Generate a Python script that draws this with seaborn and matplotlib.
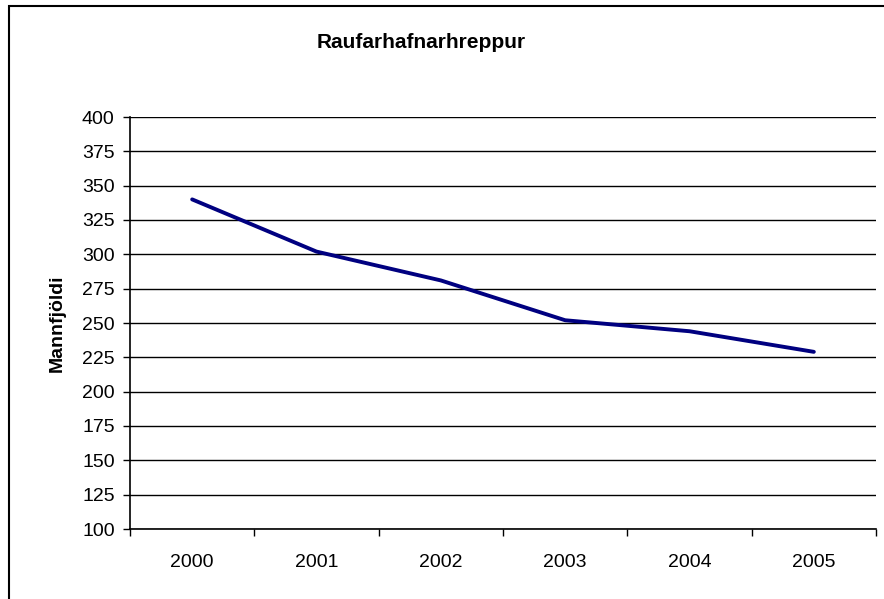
import pandas as pd
import matplotlib.pyplot as plt
import matplotlib.patches as patches
from matplotlib.ticker import FixedLocator
import seaborn as sns

years = ['2000', '2001', '2002', '2003', '2004', '2005']
population = [340, 302, 281, 252, 244, 229]
y_ticks = list(range(100, 401, 25))

df = pd.DataFrame({'year': years, 'pop': population})

sns.set_style('white')
plt.rcParams['font.family'] = ['Liberation Sans', 'DejaVu Sans']
plt.rcParams['text.color'] = 'black'
plt.rcParams['axes.labelcolor'] = 'black'
plt.rcParams['xtick.color'] = 'black'
plt.rcParams['ytick.color'] = 'black'

fig = plt.figure(figsize=(8.84, 5.99), dpi=100)
ax = fig.add_axes([130 / 884, 70 / 599, 746 / 884, 412 / 599])

sns.lineplot(data=df, x='year', y='pop', ax=ax, color='#000080', linewidth=2.8)

ax.set_xlim(-0.5, len(years) - 0.5)
ax.set_ylim(100, 400)
ax.set_yticks(y_ticks)
ax.yaxis.grid(True, color='black', linewidth=1)
ax.set_axisbelow(True)

# category axis: labels centered, tick marks between categories
ax.xaxis.set_minor_locator(FixedLocator([i - 0.5 for i in range(len(years) + 1)]))
ax.tick_params(axis='x', which='major', length=0, pad=18, labelsize=14)
ax.tick_params(axis='x', which='minor', direction='out', length=5, width=1, color='black', bottom=True)
ax.tick_params(axis='y', direction='out', length=5, width=1, color='black', left=True, pad=6, labelsize=14)

for s in ['top', 'right']:
    ax.spines[s].set_visible(False)
for s in ['left', 'bottom']:
    ax.spines[s].set_color('black')
    ax.spines[s].set_linewidth(1.2)

ax.set_xlabel('')
ax.set_ylabel('Mannfjöldi', fontsize=14, fontweight='bold', labelpad=12)
fig.text(421 / 884, 1 - 43 / 599, 'Raufarhafnarhreppur', ha='center', va='center',
         fontsize=15, fontweight='bold')

fig.patches.append(patches.Rectangle((9 / 884, -0.05), 1.1, 1.05 - 6 / 599, transform=fig.transFigure,
                                     fill=False, edgecolor='black', linewidth=1.5))

fig.savefig('out.png', dpi=100)
